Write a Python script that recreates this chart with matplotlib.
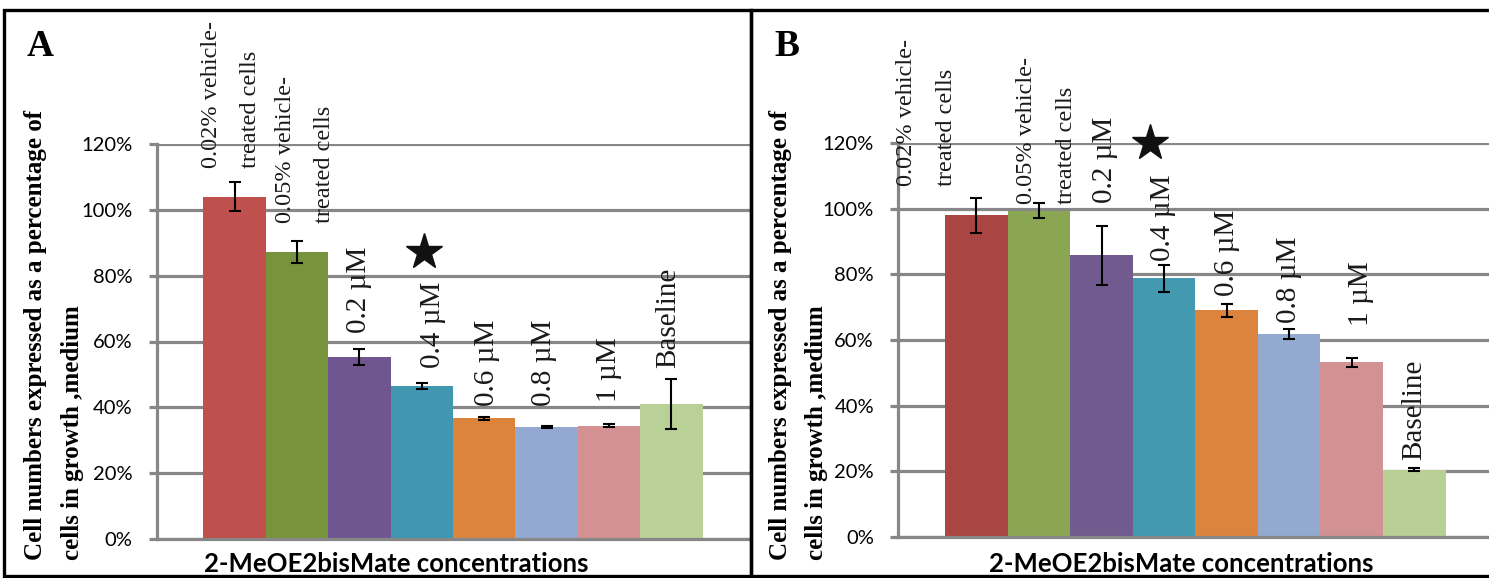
import matplotlib
matplotlib.use("Agg")
import matplotlib.pyplot as plt
from matplotlib.patches import Rectangle
from matplotlib.ticker import FuncFormatter

# bar labels (same treatments in both panels)
labels = ["0.02% vehicle-\ntreated cells", "0.05% vehicle-\ntreated cells",
          "0.2 \u00b5M", "0.4 \u00b5M", "0.6 \u00b5M", "0.8 \u00b5M", "1 \u00b5M", "Baseline"]

# panel A: cell numbers (% of cells in growth medium) and error
vals_a = [104.0, 87.2, 55.2, 46.5, 36.7, 34.0, 34.4, 41.0]
errs_a = [4.4, 3.3, 2.4, 0.9, 0.4, 0.4, 0.5, 7.6]

# panel B
vals_b = [98.0, 99.5, 85.9, 78.8, 69.0, 61.9, 53.2, 20.4]
errs_b = [5.3, 2.3, 9.0, 4.1, 2.1, 1.5, 1.4, 0.5]

yticks = [0, 20, 40, 60, 80, 100, 120]

colors_a = ["#C0504D", "#77933C", "#6F5690", "#4197B0", "#DD843C", "#94A9D2", "#D39191", "#B9D196"]
colors_b = ["#A94643", "#8AA652", "#715B8E", "#4299B0", "#DC843D", "#93A9CF", "#D29192", "#B8CF95"]

# where the (hand placed) data labels sit: x shift in bar widths, bottom in %
lab_dx_a = [-0.06, 0.13, 0.0, 0.18, 0.05, -0.05, 0.0, -0.05]
lab_y_a = [112.7, 96.0, 62.5, 51.9, 40.5, 40.3, 41.6, 51.9]
lab_dx_b = [-0.8, 0.12, 0.06, -0.02, 0.0, 0.0, 0.15, 0.0]
lab_y_b = [106.9, 101.6, 101.9, 84.0, 73.3, 65.2, 64.3, 23.4]
star_a = (3.03, 87.3)
star_b = (2.78, 120.2)

W, H = 1489, 578
fig = plt.figure(figsize=(W / 100, H / 100), dpi=100)
GRID = "#878787"
SERIF = "Liberation Serif"
SANS = "Lato"


def px_axes(x0, ytop, x1, ybot):
    return fig.add_axes([x0 / W, 1 - ybot / H, (x1 - x0) / W, (ybot - ytop) / H])


def panel(ax, vals, errs, colors, dx, ly, star, letter, lx, ylx, xlx):
    x = list(range(len(vals)))
    ax.bar(x, vals, width=1.0, color=colors, zorder=2)
    ax.errorbar(x, vals, yerr=errs, fmt="none", ecolor="black", elinewidth=1.5,
                capsize=4.5, capthick=1.5, zorder=3)
    ax.set_xlim(-1.25, 8.25)
    ax.set_ylim(0, 120)
    ax.set_yticks(yticks)
    ax.yaxis.set_major_formatter(FuncFormatter(lambda v, p: "%d%%" % v))
    ax.set_xticks([])
    ax.grid(axis="y", color=GRID, lw=2.3, zorder=0)
    ax.set_axisbelow(True)
    for s in ["top", "right"]:
        ax.spines[s].set_visible(False)
    for s in ["left", "bottom"]:
        ax.spines[s].set_color(GRID)
        ax.spines[s].set_linewidth(2.3)
    ax.tick_params(axis="y", length=6, width=2.3, color=GRID, pad=11.5,
                   labelsize=14.5)
    for t in ax.get_yticklabels():
        t.set_family(SANS)
    for i, lab in enumerate(labels):
        size = 17.5 if "vehicle" in lab else 21
        ax.text(i + dx[i], ly[i], lab, rotation=90, ha="center", va="bottom",
                multialignment="left", family=SERIF, fontsize=size,
                linespacing=2.15, color="#1a1a1a", zorder=4)
    ax.plot([star[0]], [star[1]], marker="*", ms=27, color="#111111",
            clip_on=False, zorder=5)
    # panel letter, y axis title and x axis title
    fig.text(lx / W, 1 - 47 / H, letter, family=SERIF, weight="bold",
             fontsize=27, ha="center", va="center")
    fig.text(ylx / W, 1 - 560 / H,
             "Cell numbers expressed as a percentage of\ncells in growth ,medium",
             rotation=90, ha="center", va="bottom", multialignment="left",
             family=SERIF, weight="bold", fontsize=18, linespacing=1.75)
    fig.text(xlx / W, 1 - 564 / H, "2-MeOE2bisMate concentrations",
             family=SANS, weight="bold", fontsize=18.5, ha="center", va="center")


ax_a = px_axes(156.5, 144, 749.5, 539)
panel(ax_a, vals_a, errs_a, colors_a, lab_dx_a, lab_y_a, star_a, "A", 40, 54, 396)

ax_b = px_axes(898.3, 143.3, 1492.5, 536.7)
panel(ax_b, vals_b, errs_b, colors_b, lab_dx_b, lab_y_b, star_b, "B", 786.5, 798.5, 1181.5)

# panel frames
for x0, x1 in [(4, 751), (751, 1495)]:
    fig.add_artist(Rectangle((x0 / W, 1 - 576 / H), (x1 - x0) / W, 566 / H,
                             transform=fig.transFigure, fill=False,
                             edgecolor="black", lw=2.4, zorder=10))

fig.savefig("out.png", dpi=100)
